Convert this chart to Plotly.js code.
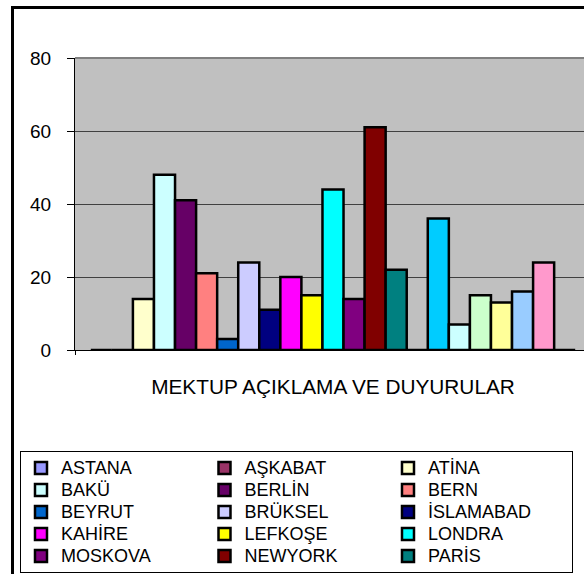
<!DOCTYPE html>
<html>
<head>
<meta charset="utf-8">
<script src="https://cdn.plot.ly/plotly-3.0.1.min.js"></script>
<style>
  html, body { margin: 0; padding: 0; background: #fff; overflow: hidden; }
  #chart { position: absolute; left: -60px; top: 9px; }
  /* outer chart frame, only left and top edges are inside the picture */
  #frame { position: absolute; left: 11px; top: 6px; width: 700px; height: 700px;
           border-left: 3px solid #000; border-top: 3px solid #000; pointer-events: none; z-index: 2; }
</style>
</head>
<body>
<div id="chart"></div>
<div id="frame"></div>
<script>
"use strict";

/******** data ********/
var categories = ['MEKTUP AÇIKLAMA VE DUYURULAR'];

var cities = ['ASTANA', 'AŞKABAT', 'ATİNA', 'BAKÜ', 'BERLİN', 'BERN', 'BEYRUT', 'BRÜKSEL',
              'İSLAMABAD', 'KAHİRE', 'LEFKOŞE', 'LONDRA', 'MOSKOVA', 'NEWYORK', 'PARİS',
              'Seri 16', 'Seri 17', 'Seri 18', 'Seri 19', 'Seri 20', 'Seri 21', 'Seri 22', 'Seri 23'];

var values = [0, 0, 14, 48, 41, 21, 3, 24,
              11, 20, 15, 44, 14, 61, 22,
              0, 36, 7, 15, 13, 16, 24, 0];

var colors = ['#9999FF', '#993366', '#FFFFCC', '#CCFFFF', '#660066', '#FF8080', '#0066CC', '#CCCCFF',
              '#000080', '#FF00FF', '#FFFF00', '#00FFFF', '#800080', '#800000', '#008080',
              '#0000FF', '#00CCFF', '#CCFFFF', '#CCFFCC', '#FFFF99', '#99CCFF', '#FF99CC', '#CC99FF'];

var legendCount = 15;   // only the first 15 fit in the legend box

/******** traces ********/
var data = cities.map(function (name, i) {
  return {
    type: 'bar',
    name: '<span style="font-size:18px">' + name + '</span>',   // big text, tight rows
    x: categories,
    y: [values[i]],
    marker: { color: colors[i], line: { color: '#000', width: 2.5 } },
    showlegend: i < legendCount
  };
});

/******** layout ********/
var layout = {
  width: 664,
  height: 580,
  margin: { l: 135, r: 13, t: 49, b: 239, autoexpand: false },
  paper_bgcolor: '#fff',
  plot_bgcolor: '#C0C0C0',
  font: { family: 'Arial, "Liberation Sans", sans-serif', color: '#000', size: 19 },
  barmode: 'group',
  bargap: 0.0612,
  bargroupgap: 0,
  xaxis: {
    type: 'category',
    range: [-0.5, 0.5],
    showline: true, linecolor: '#000', linewidth: 1,
    ticks: 'outside', tickson: 'boundaries', ticklen: 4, tickcolor: '#000',
    ticklabelstandoff: 18,
    tickfont: { size: 20.8 },
    showgrid: false, zeroline: false
  },
  yaxis: {
    range: [0, 80], tick0: 0, dtick: 20,
    showline: true, linecolor: '#000', linewidth: 1,
    ticks: 'outside', ticklen: 7, tickcolor: '#000',
    ticklabelstandoff: 12,
    tickfont: { size: 19 },
    gridcolor: '#404040', gridwidth: 1,
    zeroline: false
  },
  legend: {
    orientation: 'h',
    x: -0.1066, xanchor: 'left',
    y: -0.3459, yanchor: 'top',
    bgcolor: '#fff', bordercolor: '#000', borderwidth: 1,
    font: { size: 14.6 },
    entrywidth: 138.5, entrywidthmode: 'pixels',
    traceorder: 'normal'
  },
  shapes: [
    { type: 'line', xref: 'paper', yref: 'paper', x0: 0, x1: 1, y0: 1, y1: 1,
      line: { color: '#808080', width: 2 } }   /* plot area top border */
  ],
  showlegend: true
};

Plotly.newPlot('chart', data, layout, { displayModeBar: false, staticPlot: true });
</script>
</body>
</html>
